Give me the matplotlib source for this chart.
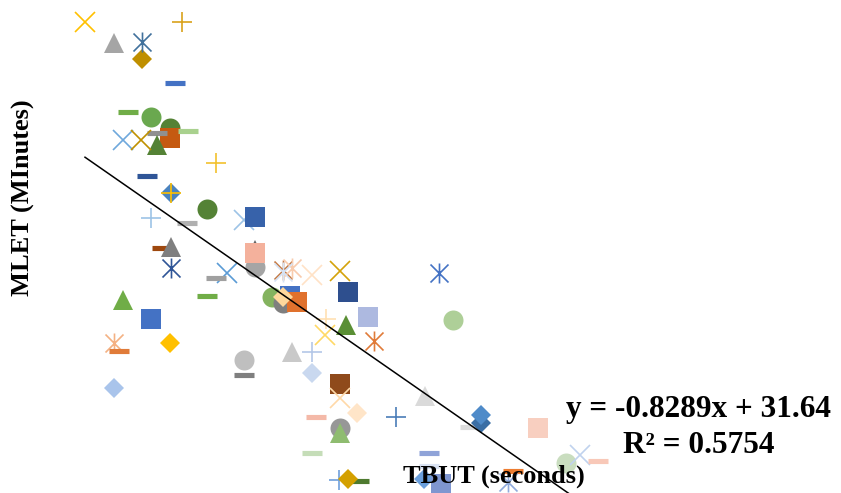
import matplotlib.pyplot as plt
from matplotlib.path import Path

# TBUT (seconds) vs MLET (minutes), one entry per plotted point, back to front
tbut = [4.0, 5.45, 8.85, 6.85, 6.85, 8.5, 6.15, 7.3, 8.25, 8.25,
        9.15, 7.6, 7.6, 5.9, 6.8, 10.55, 7.1, 8.3, 8.3, 10.1,
        7.3, 9.1, 11.95, 12.5, 7.85, 8.3, 8.3, 12.5, 12.5, 12.5,
        11.1, 10.55, 13.9, 14.35, 13.9, 15.35, 16.75, 17.15, 10.1, 5.9,
        14.25, 13.35, 13.9, 14.6, 13.9, 16.05, 17.05, 18.15, 16.0, 21.7,
        22.4, 18.45, 14.35, 15.35, 15.35, 16.75, 16.75, 17.6, 15.55, 16.75,
        16.75, 19.55, 21.0, 23.25, 23.8, 23.8, 5.45, 5.7, 7.3, 8.25,
        5.45, 11.95, 11.95, 15.35, 16.7, 17.7, 17.15, 21.2, 21.2, 20.95,
        21.8, 26.65, 28.05, 28.75, 29.65, 25.4, 25.15]
mlet = [36.39, 35.13, 36.39, 34.18, 35.19, 32.75, 31.02, 30.72, 30.07, 29.47,
        29.89, 29.77, 29.05, 29.35, 29.35, 27.98, 27.20, 26.19, 26.19, 25.24,
        24.70, 24.40, 24.58, 24.76, 22.91, 22.97, 21.72, 22.79, 21.78, 22.63,
        21.42, 21.12, 21.60, 21.72, 21.48, 21.30, 21.54, 20.29, 20.05, 19.81,
        20.05, 19.99, 19.63, 19.69, 19.99, 18.68, 18.32, 18.80, 17.72, 21.42,
        18.62, 17.36, 16.71, 16.71, 15.46, 14.80, 13.97, 13.07, 12.83, 12.18,
        11.88, 12.83, 14.08, 12.24, 12.47, 12.95, 17.25, 16.77, 18.68, 17.25,
        14.56, 16.23, 15.34, 10.69, 9.08, 9.02, 9.14, 10.69, 9.91, 9.14,
        8.84, 12.18, 10.09, 10.57, 10.21, 9.61, 8.96]

slope = -0.8289
intercept = 31.64
r_squared = 0.5754

# marker kind per point: x, +, * (star), - (dash), D, s, ^, o
shapes = ['x', '^', '+', 'D', '*', '-', '-', 'o', 'o', 's',
          '-', '-', '^', 'x', 'x', '+', '-', 'D', '+', 'o',
          '+', '-', 'x', 's', '-', '^', '*', '^', 'o', 's',
          'x', '-', '*', '*', '*', 'x', 'x', 's', '-', '^',
          's', 'o', 'o', 's', 'D', '+', '^', 's', 'x', '*',
          'o', '*', '^', '+', 'D', 's', 'x', 'D', '-', 'o',
          '^', '+', '^', '-', 'D', 'D', '*', '-', 's', 'D',
          'D', 'o', '-', '-', '+', '-', 'D', '-', '-', 'D',
          's', 's', 'o', 'x', '-', '-', '*']
colors = ['#FFC000', '#A5A5A5', '#D9A21B', '#BF8F00', '#41719C', '#4472C4', '#70AD47', '#6AA84F', '#548235', '#C55A11',
          '#A9D18E', '#909090', '#548235', '#6FA8DC', '#BF9000', '#F2C12E', '#2F5597', '#4A83BF', '#FFC000', '#548235',
          '#9DC3E6', '#B0B0B0', '#9DC3E6', '#3762AA', '#9E480E', '#7F7F7F', '#2F5597', '#636363', '#A5A5A5', '#F4B19C',
          '#5B9BD5', '#A0A0A0', '#C47A45', '#F8CBAD', '#D6E2F3', '#FFE2C6', '#D4A20A', '#2E4F8E', '#70AD47', '#70AD47',
          '#4472C4', '#84B35F', '#7F7F7F', '#E0712D', '#FFD89C', '#FFE0B3', '#5A8F35', '#ADB9E0', '#FFD966', '#4472C4',
          '#AECF98', '#E07B39', '#C9C9C9', '#B4C7E7', '#C9D8EF', '#8F4A1B', '#FFD9A8', '#FFE5C8', '#F4B9A8', '#979797',
          '#8FBC70', '#4A7DB8', '#DADADA', '#DCDCDC', '#3A6EA5', '#4F8BC9', '#F4B183', '#E07B39', '#4472C4', '#FFC000',
          '#A9C4EB', '#BFBFBF', '#7F7F7F', '#C5DDB8', '#6FA0DC', '#4E7A2F', '#D4A000', '#8FA3D8', '#DAE3F3', '#6A9FDC',
          '#7F96D0', '#F8CFC0', '#C9DDBF', '#C0D2EE', '#F8C8B8', '#ED7D31', '#8FAADC']

# excel style star marker (x with a vertical bar)
star = Path([(-0.9, -0.9), (0.9, 0.9), (-0.9, 0.9), (0.9, -0.9), (0, -1), (0, 1)],
            [Path.MOVETO, Path.LINETO, Path.MOVETO, Path.LINETO, Path.MOVETO, Path.LINETO])

fig = plt.figure(figsize=(8.41, 4.93), dpi=100)
ax = fig.add_axes([0, 0, 1, 1])
ax.set_xlim(-0.25, 41.8)
ax.set_ylim(8.30, 37.70)
ax.axis('off')

for x, y, s, c in zip(tbut, mlet, shapes, colors):
    if s in ('x', '+'):
        ax.plot(x, y, marker=s, ms=14, mec=c, mew=1.2, ls='none')
    elif s == '*':
        ax.plot(x, y, marker=star, ms=14.4, mfc='none', mec=c, mew=1.2, ls='none')
    elif s == '-':
        # thick horizontal bar, like the excel dash marker
        ax.plot(x, y, marker='_', ms=14.4, mec=c, mew=3.7, ls='none')
    elif s == 'D':
        ax.plot(x, y, marker='D', ms=10, mfc=c, mew=0, ls='none')
    else:
        ax.plot(x, y, marker=s, ms=14.4, mfc=c, mew=0, ls='none')

# linear trendline over the data range
x_line = [min(tbut), max(tbut)]
ax.plot(x_line, [slope * v + intercept for v in x_line], color='black', lw=1.1, zorder=5)

font = dict(family='Liberation Serif', fontweight='bold')
W, H = 841, 493
fig.text(699 / W, 1 - 417 / H, f"y = {slope}x + {intercept}", ha='center', va='baseline', fontsize=22.5, **font)
fig.text(699 / W, 1 - 453 / H, f"R² = {r_squared}", ha='center', va='baseline', fontsize=22.5, **font)
fig.text(494 / W, 1 - 483 / H, "TBUT (seconds)", ha='center', va='baseline', fontsize=19, **font)
fig.text(30 / W, 1 - 198 / H, "MLET (MInutes)", rotation=90, rotation_mode='anchor',
         ha='center', va='baseline', fontsize=19, **font)

fig.savefig('out.png', dpi=100)
